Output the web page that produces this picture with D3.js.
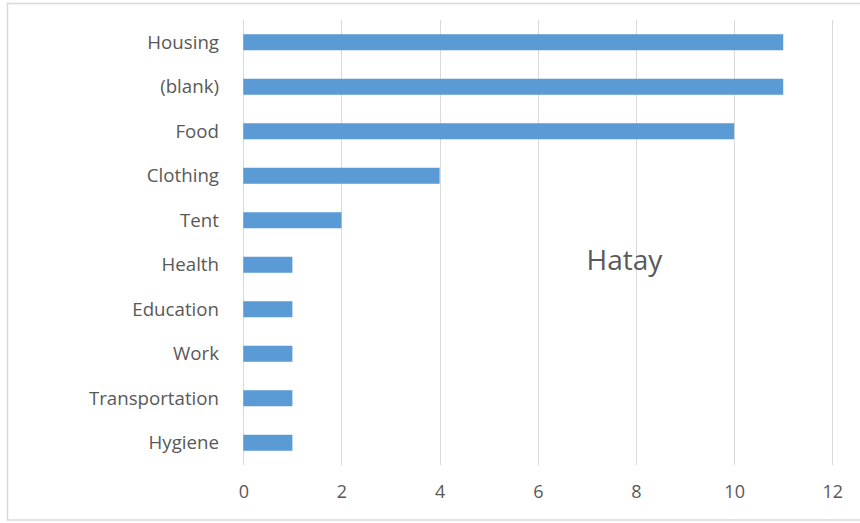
<!DOCTYPE html>
<html>
<head>
<meta charset="utf-8">
<script src="https://cdn.jsdelivr.net/npm/d3@7"></script>
<style>
  html, body { margin: 0; padding: 0; background: #fff; }
  svg { display: block; }
  text { font-family: "Open Sans", Lato, sans-serif; fill: #595959; }
</style>
</head>
<body>
<svg id="chart" width="860" height="523"></svg>
<script>
// Needs by category, Hatay
const categories = ["Housing", "(blank)", "Food", "Clothing", "Tent", "Health", "Education", "Work", "Transportation", "Hygiene"];
const counts = [11, 11, 10, 4, 2, 1, 1, 1, 1, 1];
const xTicks = [0, 2, 4, 6, 8, 10, 12];
const chartTitle = "Hatay";

const svg = d3.select("#chart");
const plot = { left: 243.3, right: 832.3, top: 20, bottom: 465 };

// outer frame
svg.append("rect")
  .attr("x", 7.5).attr("y", 3.5)
  .attr("width", 870).attr("height", 516.5)
  .attr("fill", "#fff").attr("stroke", "#d9d9d9").attr("stroke-width", 1.5);

const x = d3.scaleLinear().domain([0, 12]).range([plot.left, plot.right]);
const y = d3.scaleBand().domain(categories).range([plot.top, plot.bottom]).paddingInner(0.64).paddingOuter(0.32);

// vertical gridlines
svg.append("g")
  .selectAll("line")
  .data(xTicks)
  .join("line")
  .attr("x1", d => Math.round(x(d)) + 0.5).attr("x2", d => Math.round(x(d)) + 0.5)
  .attr("y1", plot.top).attr("y2", plot.bottom)
  .attr("stroke", "#d9d9d9").attr("stroke-width", 1);

// x axis tick labels
const xAxis = d3.axisBottom(x).tickValues(xTicks).tickSize(0).tickPadding(0);
const gx = svg.append("g").attr("transform", `translate(0,${plot.bottom + 27})`).call(xAxis);
gx.select(".domain").remove();
gx.selectAll("text")
  .attr("font-size", 18).attr("font-family", null).attr("fill", "#595959")
  .attr("dy", "0.36em").attr("y", 0);

// bars
svg.append("g")
  .selectAll("rect")
  .data(categories.map((c, i) => ({ c, v: counts[i] })))
  .join("rect")
  .attr("x", x(0))
  .attr("y", d => y(d.c))
  .attr("width", d => x(d.v) - x(0))
  .attr("height", y.bandwidth())
  .attr("fill", "#5b9bd5");

// category labels
const yAxis = d3.axisLeft(y).tickSize(0).tickPadding(0);
const gy = svg.append("g").attr("transform", `translate(219,0)`).call(yAxis);
gy.select(".domain").remove();
gy.selectAll("text")
  .attr("font-size", 18.7).attr("font-family", null).attr("fill", "#595959")
  .attr("dy", "0.36em");

// chart title placed inside the plot
svg.append("text")
  .attr("x", 624.5).attr("y", 260)
  .attr("text-anchor", "middle").attr("dy", "0.36em")
  .attr("font-size", 28)
  .text(chartTitle);
</script>
</body>
</html>
